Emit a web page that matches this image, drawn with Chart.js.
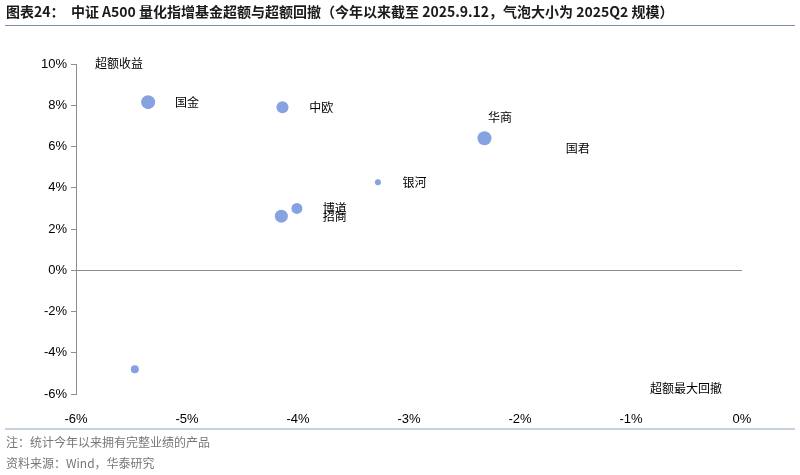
<!DOCTYPE html>
<html><head><meta charset="utf-8">
<script src="https://cdn.jsdelivr.net/npm/chart.js@4"></script>
<style>html,body{margin:0;padding:0;background:#fff}#w{width:800px;height:475px;position:relative}</style>
</head><body><div id="w"><canvas id="c"></canvas></div>
<script>
const funds = ['国金','中欧','华商','银河','博道','招商',''];
const drawdown = [-5.35,-4.14,-2.32,-3.28,-4.01,-4.15,-5.47];
const excess = [8.15,7.9,6.4,4.27,3.0,2.62,-4.8];
const scale2025Q2 = [7,6,7,3,5.5,6.5,4];
const labelNames = ['国金','中欧','华商','国君','银河','博道','招商'];
const labelX = [-5.0,-3.79,-2.18,-1.48,-2.95,-3.67,-3.67];
const labelY = [8.15,7.9,7.4,5.9,4.27,3.0,2.62];
const xTicks = [-6,-5,-4,-3,-2,-1,0];
const yTicks = [-6,-4,-2,0,2,4,6,8,10];
const CJK = '"Noto Sans CJK SC", sans-serif';
const LAT = '"Liberation Sans", Arial, sans-serif';
const deco = {
  id:'deco',
  afterDraw(ch){
    const c=ch.ctx, x=ch.scales.x, y=ch.scales.y;
    c.save();
    // zero line
    c.strokeStyle='#8c8c8c'; c.lineWidth=1;
    c.beginPath(); c.moveTo(x.left, Math.round(y.getPixelForValue(0))+0.5); c.lineTo(x.right, Math.round(y.getPixelForValue(0))+0.5); c.stroke();
    // labels
    c.fillStyle='#000'; c.font='12px '+CJK; c.textBaseline='middle'; c.textAlign='center';
    labelNames.forEach((n,i)=>c.fillText(n, x.getPixelForValue(labelX[i]), y.getPixelForValue(labelY[i])));
    c.textAlign='left';
    c.fillText('超额收益', 95, 63);
    c.fillText('超额最大回撤', 650, 388);
    // title
    c.font='bold 14px '+CJK; c.fillStyle='#1a1a1a';
    c.fillText('图表24：  中证 A500 量化指增基金超额与超额回撤（今年以来截至 2025.9.12，气泡大小为 2025Q2 规模）', 6, 12);
    c.strokeStyle='#7a8fb4'; c.lineWidth=1;
    c.beginPath(); c.moveTo(5,25.5); c.lineTo(795,25.5); c.stroke();
    c.strokeStyle='#c8d0dc'; c.lineWidth=2;
    c.beginPath(); c.moveTo(5,429); c.lineTo(795,429); c.stroke();
    c.font='12px '+CJK; c.fillStyle='#777';
    c.fillText('注：统计今年以来拥有完整业绩的产品', 6, 442);
    c.fillText('资料来源：Wind，华泰研究', 6, 463);
    c.restore();
  }
};
new Chart(document.getElementById('c'),{
  type:'bubble',
  data:{datasets:[{data:funds.map((f,i)=>({x:drawdown[i],y:excess[i],r:scale2025Q2[i]})),
    backgroundColor:'#87a2e0',borderColor:'#87a2e0',borderWidth:0}]},
  options:{responsive:true,maintainAspectRatio:false,animation:false,
    layout:{padding:{top:64,right:58,left:0,bottom:0}},
    plugins:{legend:{display:false},tooltip:{enabled:false}},
    scales:{
      x:{min:-6,max:0,afterFit(s){s.height=81;},afterBuildTicks(s){s.ticks=xTicks.map(v=>({value:v}));},
        grid:{display:false},border:{display:false},
        ticks:{padding:10,color:'#000',font:{family:LAT,size:13},callback:v=>v+'%'}},
      y:{min:-6,max:10,afterFit(s){s.width=76;},afterBuildTicks(s){s.ticks=yTicks.map(v=>({value:v}));},
        grid:{drawOnChartArea:false,tickLength:5,color:'#8c8c8c'},border:{display:true,color:'#8c8c8c'},
        ticks:{padding:4,color:'#000',font:{family:LAT,size:13},callback:v=>v+'%'}}
    }},
  plugins:[deco]
});
</script></body></html>
